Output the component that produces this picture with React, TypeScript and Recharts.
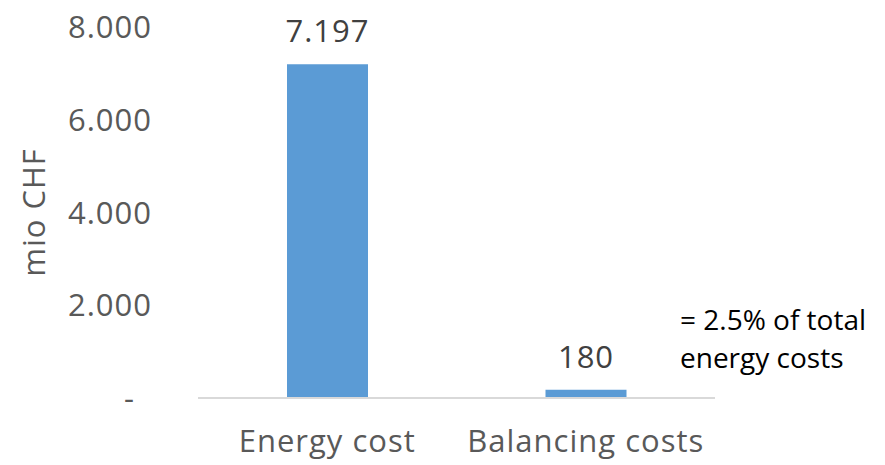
import React from 'react'
import { BarChart, Bar, XAxis, YAxis, LabelList, Label } from 'recharts'

// categories and values (mio CHF)
const categories = ['Energy cost', 'Balancing costs']
const costs = [7197, 180]
const yTicks = [0, 2000, 4000, 6000, 8000]
const noteLines = ['= 2.5% of total', 'energy costs']

const data = categories.map((name, i) => ({ name, value: costs[i] }))

const FONT = '"Open Sans", sans-serif'

// 7197 -> 7.197, 0 -> "-"
const fmt = (v: number) => (v === 0 ? '-' : v.toLocaleString('de-DE'))

const YTick = (props: any) => {
  const { x, y, payload } = props
  const v = payload.value
  return (
    <text x={x} y={y} dx={v === 0 ? -55 : -38} dy={11} textAnchor="end" fill="#595959" fontSize={31} letterSpacing={1} fontFamily={FONT}>
      {fmt(v)}
    </text>
  )
}

const YTitle = (props: any) => {
  const { viewBox } = props
  const cx = viewBox.x + 33
  const cy = viewBox.y + viewBox.height / 2
  return (
    <text x={cx} y={cy} textAnchor="middle" dominantBaseline="central" transform={`rotate(-90, ${cx}, ${cy})`} fill="#595959" fontSize={31} letterSpacing={1} fontFamily={FONT}>
      mio CHF
    </text>
  )
}

export default function App() {
  return (
    <div style={{ position: 'absolute', left: 0, top: 0, width: 885, height: 465, background: '#fff' }}>
      <BarChart width={885} height={465} data={data} margin={{ top: 27, right: 170, left: 0, bottom: 0 }}>
        <XAxis
          dataKey="name"
          height={67}
          tickLine={false}
          tickSize={0}
          tickMargin={32}
          axisLine={{ stroke: '#D9D9D9', strokeWidth: 2 }}
          tick={{ fill: '#595959', fontSize: 31, letterSpacing: 1, fontFamily: FONT }}
          interval={0}
        />
        <YAxis
          width={198}
          domain={[0, 8000]}
          ticks={yTicks}
          axisLine={false}
          tickLine={false}
          tick={<YTick />}
        >
          <Label content={<YTitle />} />
        </YAxis>
        <Bar dataKey="value" fill="#5B9BD5" barSize={81} isAnimationActive={false}>
          <LabelList dataKey="value" position="top" offset={22} formatter={(v: any) => fmt(Number(v))} fill="#404040" fontSize={31} letterSpacing={1} fontFamily={FONT} />
        </Bar>
      </BarChart>
      <div style={{ position: 'absolute', left: 680, top: 300, fontFamily: FONT, fontSize: 28, lineHeight: '38px', color: '#000' }}>
        {noteLines.map((t) => (
          <div key={t}>{t}</div>
        ))}
      </div>
    </div>
  )
}
